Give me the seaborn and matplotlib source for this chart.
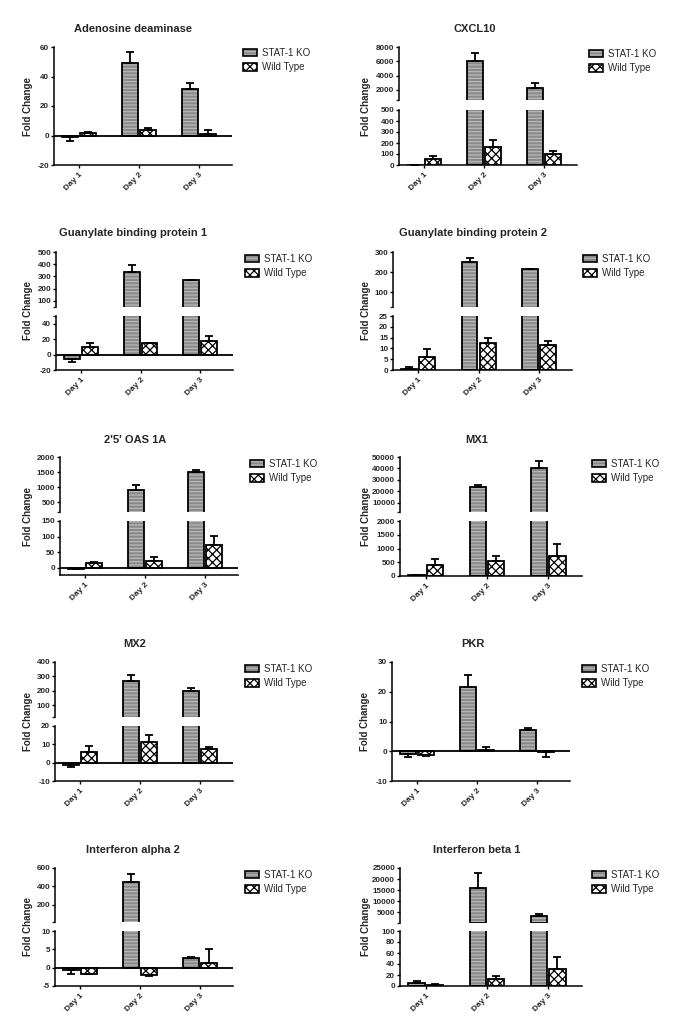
import matplotlib
matplotlib.use("Agg")
import matplotlib.pyplot as plt
import seaborn as sns
import pandas as pd
from matplotlib.patches import Patch, Rectangle
from matplotlib.legend_handler import HandlerTuple

sns.set_theme(style="ticks")
plt.rcParams["font.family"] = ["Liberation Sans", "DejaVu Sans"]
plt.rcParams["hatch.linewidth"] = 0.9

# ---------------- data ----------------
days = ["Day 1", "Day 2", "Day 3"]
groups = ["STAT-1 KO", "Wild Type"]

ada_ko = [-1.2, 49.1, 31.8]
ada_ko_err = [2.2, 7.2, 3.8]
ada_wt = [2.0, 3.6, 1.1]
ada_wt_err = [0.3, 1.6, 2.9]

cxcl10_ko = [1, 6000, 2320]
cxcl10_ko_err = [0, 1200, 600]
cxcl10_wt = [52, 164, 100]
cxcl10_wt_err = [30, 66, 27]

gbp1_ko = [-5.1, 337, 268]
gbp1_ko_err = [4.3, 54, 5]
gbp1_wt = [9.9, 14.6, 17.2]
gbp1_wt_err = [5.6, 0.5, 6.9]

gbp2_ko = [0.5, 249, 214]
gbp2_ko_err = [1.0, 23, 3]
gbp2_wt = [6.1, 12.6, 11.8]
gbp2_wt_err = [3.5, 2.1, 1.5]

oas_ko = [-4, 920, 1493]
oas_ko_err = [1, 165, 77]
oas_wt = [15, 23, 74]
oas_wt_err = [5, 13, 27]

mx1_ko = [20, 23530, 40000]
mx1_ko_err = [5, 2060, 6470]
mx1_wt = [388, 558, 715]
mx1_wt_err = [218, 170, 450]

mx2_ko = [-1.1, 272, 203]
mx2_ko_err = [1.3, 36, 14]
mx2_wt = [6.0, 11.2, 7.5]
mx2_wt_err = [3.0, 4.0, 1.3]

pkr_ko = [-0.9, 21.5, 7.2]
pkr_ko_err = [0.9, 4.1, 0.45]
pkr_wt = [-1.35, 0.45, -0.2]
pkr_wt_err = [0.1, 1.0, 1.8]

ifna2_ko = [-0.65, 450, 2.6]
ifna2_ko_err = [1.1, 89, 0.35]
ifna2_wt = [-1.6, -2.1, 1.4]
ifna2_wt_err = [0.1, 0.2, 3.8]

ifnb1_ko = [4.9, 16145, 3320]
ifnb1_ko_err = [4.4, 6565, 760]
ifnb1_wt = [2.5, 12.3, 31]
ifnb1_wt_err = [1.2, 6.2, 22]

titles = ["Adenosine deaminase", "CXCL10", "Guanylate binding protein 1",
          "Guanylate binding protein 2", "2'5' OAS 1A", "MX1", "MX2", "PKR",
          "Interferon alpha 2", "Interferon beta 1"]

# y ticks per segment (upper segment first)
ada_ticks = [[-20, 0, 20, 40, 60]]
cxcl10_ticks = [[2000, 4000, 6000, 8000], [0, 100, 200, 300, 400, 500]]
gbp1_ticks = [[100, 200, 300, 400, 500], [-20, 0, 20, 40]]
gbp2_ticks = [[100, 200, 300], [0, 5, 10, 15, 20, 25]]
oas_ticks = [[500, 1000, 1500, 2000], [0, 50, 100, 150]]
mx1_ticks = [[10000, 20000, 30000, 40000, 50000], [0, 500, 1000, 1500, 2000]]
mx2_ticks = [[100, 200, 300, 400], [-10, 0, 10, 20]]
pkr_ticks = [[-10, 0, 10, 20, 30]]
ifna2_ticks = [[200, 400, 600], [-5, 0, 5, 10]]
ifnb1_ticks = [[5000, 10000, 15000, 20000, 25000], [0, 20, 40, 60, 80, 100]]

ada_lims = [(-20, 60)]
cxcl10_lims = [(600, 8000), (0, 500)]
gbp1_lims = [(50, 500), (-20, 50)]
gbp2_lims = [(27, 300), (0, 25)]
oas_lims = [(180, 2000), (-23, 150)]
mx1_lims = [(2000, 50000), (0, 2000)]
mx2_lims = [(20, 400), (-10, 20)]
pkr_lims = [(-10, 30)]
ifna2_lims = [(12, 600), (-5, 10)]
ifnb1_lims = [(100, 25000), (0, 100)]

series = [
    (ada_ko, ada_ko_err, ada_wt, ada_wt_err, ada_ticks, ada_lims),
    (cxcl10_ko, cxcl10_ko_err, cxcl10_wt, cxcl10_wt_err, cxcl10_ticks, cxcl10_lims),
    (gbp1_ko, gbp1_ko_err, gbp1_wt, gbp1_wt_err, gbp1_ticks, gbp1_lims),
    (gbp2_ko, gbp2_ko_err, gbp2_wt, gbp2_wt_err, gbp2_ticks, gbp2_lims),
    (oas_ko, oas_ko_err, oas_wt, oas_wt_err, oas_ticks, oas_lims),
    (mx1_ko, mx1_ko_err, mx1_wt, mx1_wt_err, mx1_ticks, mx1_lims),
    (mx2_ko, mx2_ko_err, mx2_wt, mx2_wt_err, mx2_ticks, mx2_lims),
    (pkr_ko, pkr_ko_err, pkr_wt, pkr_wt_err, pkr_ticks, pkr_lims),
    (ifna2_ko, ifna2_ko_err, ifna2_wt, ifna2_wt_err, ifna2_ticks, ifna2_lims),
    (ifnb1_ko, ifnb1_ko_err, ifnb1_wt, ifnb1_wt_err, ifnb1_ticks, ifnb1_lims),
]

# ---------------- layout (pixels) ----------------
W, H = 685, 1036
layout = [
    (54, 232, [(47, 165)]),
    (399, 577, [(47, 100), (110, 165)]),
    (56, 233, [(252, 307), (316, 370)]),
    (393, 572, [(252, 307), (316, 370)]),
    (60, 238, [(457, 512), (521, 575)]),
    (400, 582, [(457, 512), (521, 576)]),
    (55, 233, [(662, 717), (726, 781)]),
    (392, 570, [(662, 781)]),
    (55, 233, [(868, 922), (931, 986)]),
    (400, 582, [(868, 923), (931, 986)]),
]
title_pos = [(133, 29), (475, 29), (133, 233), (473, 233), (135, 440),
             (477, 440), (135, 644), (473, 644), (133, 850), (477, 850)]
ylabel_x = [28, 366, 28, 366, 28, 366, 28, 365, 28, 366]
legend_pos = [(243, 48), (589, 49), (245, 254), (583, 254), (250, 459),
              (592, 459), (245, 664), (582, 664), (245, 870), (592, 870)]

KO_FACE, KO_HATCH, KO_HC = "#8a8a8a", "-----", "#b8b8b8"
WT_FACE, WT_HATCH, WT_HC = "white", "xxxx", "black"
styles = [(KO_FACE, KO_HATCH, KO_HC), (WT_FACE, WT_HATCH, WT_HC)]

TICK_FS = 5.8

fig = plt.figure(figsize=(W / 100, H / 100), dpi=100)
fig.patch.set_facecolor("white")


def add_ax(l, r, t, b):
    return fig.add_axes([l / W, 1 - b / H, (r - l) / W, (b - t) / H])


def draw(ax, ko, ko_err, wt, wt_err, lim):
    lo, hi = lim
    df = pd.DataFrame({
        "day": days * 2,
        "group": [g for g in groups for _ in days],
        "value": list(ko) + list(wt),
    })
    sns.barplot(data=df, x="day", y="value", hue="group", order=days,
                hue_order=groups, palette=[KO_FACE, WT_FACE], saturation=1,
                width=0.6, gap=0.12, errorbar=None, legend=False, ax=ax)
    errs = [ko_err, wt_err]
    bar_conts = list(ax.containers)
    for gi, cont in enumerate(bar_conts):
        face, hatch, hc = styles[gi]
        for bi, bar in enumerate(cont.patches):
            bar.set_facecolor(face)
            bar.set_hatch(hatch)
            bar.set_edgecolor(hc)
            bar.set_linewidth(0)
            y0 = bar.get_y()
            y1 = bar.get_y() + bar.get_height()
            if max(y0, y1) < lo or min(y0, y1) > hi:
                continue
            ax.add_patch(Rectangle((bar.get_x(), y0), bar.get_width(),
                                   bar.get_height(), fill=False,
                                   edgecolor="black", linewidth=1.3, zorder=3))
            x = bar.get_x() + bar.get_width() / 2
            e = errs[gi][bi]
            yend = y1 + e if y1 >= 0 else y1 - e
            if max(y1, yend) < lo or min(y1, yend) > hi:
                continue
            yerr = [[0], [e]] if y1 >= 0 else [[e], [0]]
            ax.errorbar([x], [y1], yerr=yerr, fmt="none", ecolor="black",
                        elinewidth=1.3, capsize=3, capthick=1.3, zorder=2)
    ax.set_xlim(-0.42, 2.55)
    ax.set_xlabel("")
    ax.set_ylabel("")
    for s in ["top", "right"]:
        ax.spines[s].set_visible(False)
    for s in ["left", "bottom"]:
        ax.spines[s].set_linewidth(1.1)
        ax.spines[s].set_color("black")
    ax.tick_params(axis="both", length=2.5, width=1.0, color="black", pad=1.0)


for pi in range(10):
    ko, ko_err, wt, wt_err, ticks, lims = series[pi]
    l, r, segs = layout[pi]
    axes = []
    for si, (t, b) in enumerate(segs):
        ax = add_ax(l, r, t, b)
        draw(ax, ko, ko_err, wt, wt_err, lims[si])
        ax.set_ylim(*lims[si])
        ax.set_yticks(ticks[si])
        ax.set_yticklabels([str(v) for v in ticks[si]], fontsize=TICK_FS,
                           fontweight="bold")
        last = si == len(segs) - 1
        if lims[si][0] < 0 and last:
            ax.axhline(0, color="black", linewidth=1.3, zorder=4)
        if not last:
            ax.spines["bottom"].set_visible(False)
            ax.tick_params(axis="x", bottom=False, labelbottom=False)
            ax.set_yticks([lims[si][0]], minor=True)
            ax.tick_params(axis="y", which="minor", length=2.5, width=1.0)
        else:
            ax.set_xticks(range(len(days)))
            ax.set_xticklabels(days, rotation=45, ha="right",
                               rotation_mode="anchor", fontsize=6,
                               fontweight="bold")
            ax.tick_params(axis="x", pad=2)
            if len(segs) > 1 and lims[si][1] not in ticks[si]:
                ax.set_yticks([lims[si][1]], minor=True)
                ax.tick_params(axis="y", which="minor", length=2.5, width=1.0)
        axes.append(ax)

    tx, ty = title_pos[pi]
    fig.text(tx / W, 1 - ty / H, titles[pi], ha="center", va="center",
             fontsize=8, fontweight="bold")
    top = segs[0][0]
    bottom = segs[-1][1]
    fig.text(ylabel_x[pi] / W, 1 - (top + bottom) / 2 / H, "Fold Change",
             rotation=90, ha="center", va="center", fontsize=7,
             fontweight="bold")

    handles = []
    for face, hatch, hc in styles:
        handles.append((Patch(facecolor=face, hatch=hatch, edgecolor=hc, linewidth=0),
                        Patch(fill=False, edgecolor="black", linewidth=1.2)))
    lx, ly = legend_pos[pi]
    axes[0].legend(handles, groups, handler_map={tuple: HandlerTuple(ndivide=1, pad=0)},
                   loc="upper left", bbox_to_anchor=(lx / W, 1 - ly / H),
                   bbox_transform=fig.transFigure, frameon=False, fontsize=7,
                   handlelength=1.4, handleheight=0.75, labelspacing=0.45,
                   handletextpad=0.6, borderpad=0, borderaxespad=0)

fig.savefig("out.png", dpi=100, facecolor="white")
